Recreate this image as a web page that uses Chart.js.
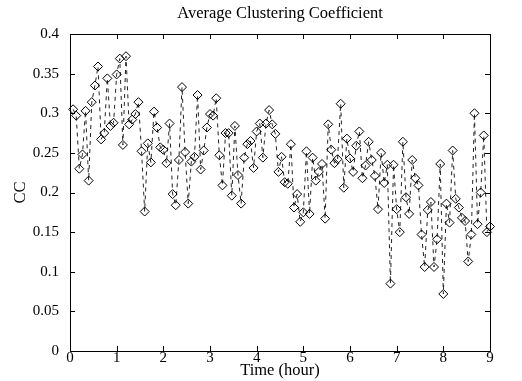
<!DOCTYPE html>
<html>
<head>
<meta charset="utf-8">
<script src="https://cdn.jsdelivr.net/npm/chart.js@4.4.1/dist/chart.umd.min.js"></script>
<style>
  html, body { margin: 0; padding: 0; background: #fff; }
  #wrap { width: 522px; height: 381px; }
</style>
</head>
<body>
<div id="wrap"><canvas id="ccChart" width="522" height="381"></canvas></div>
<script>
// average clustering coefficient, one sample every 4 minutes
const sampleMinutes = 4;
const ccValues = [
  0.305, 0.297, 0.230, 0.248, 0.303, 0.215, 0.314, 0.335, 0.359, 0.267,
  0.275, 0.344, 0.284, 0.288, 0.349, 0.369, 0.260, 0.372, 0.286, 0.292,
  0.299, 0.314, 0.252, 0.176, 0.262, 0.238, 0.302, 0.282, 0.257, 0.254,
  0.237, 0.287, 0.198, 0.184, 0.241, 0.333, 0.251, 0.186, 0.239, 0.245,
  0.323, 0.229, 0.253, 0.282, 0.299, 0.297, 0.319, 0.247, 0.209, 0.275,
  0.275, 0.196, 0.284, 0.222, 0.186, 0.244, 0.261, 0.265, 0.231, 0.277,
  0.287, 0.244, 0.287, 0.304, 0.286, 0.274, 0.226, 0.245, 0.213, 0.211,
  0.261, 0.181, 0.198, 0.163, 0.175, 0.252, 0.173, 0.244, 0.215, 0.226,
  0.236, 0.167, 0.286, 0.254, 0.237, 0.242, 0.312, 0.206, 0.268, 0.243,
  0.226, 0.259, 0.277, 0.218, 0.234, 0.264, 0.241, 0.221, 0.179, 0.250,
  0.212, 0.235, 0.085, 0.235, 0.179, 0.150, 0.264, 0.194, 0.173, 0.241,
  0.218, 0.209, 0.147, 0.106, 0.178, 0.188, 0.106, 0.141, 0.236, 0.072,
  0.186, 0.162, 0.253, 0.192, 0.181, 0.168, 0.164, 0.113, 0.147, 0.300,
  0.160, 0.200, 0.272, 0.150, 0.157
];
const xTicks = [0, 1, 2, 3, 4, 5, 6, 7, 8, 9];
const yTicks = [0, 0.05, 0.1, 0.15, 0.2, 0.25, 0.3, 0.35, 0.4];
const chartTitle = 'Average Clustering Coefficient';

const serif = 'Liberation Serif';
const tickSize = 15;
const labelSize = 16.5;
const points = ccValues.map((v, i) => ({ x: (i + 1) * sampleMinutes / 60, y: v }));

// box around the plot with short tick marks pointing inward on every side,
// plus the title centred over the plot area
const axesBox = {
  id: 'axesBox',
  afterDraw(chart) {
    const { ctx, chartArea: a, scales: { x, y } } = chart;
    const len = 5;
    ctx.save();
    ctx.strokeStyle = '#000';
    ctx.lineWidth = 1;
    ctx.setLineDash([]);
    ctx.beginPath();
    xTicks.forEach(t => {
      const px = Math.round(x.getPixelForValue(t)) + 0.5;
      ctx.moveTo(px, a.bottom);
      ctx.lineTo(px, a.bottom - len);
      ctx.moveTo(px, a.top);
      ctx.lineTo(px, a.top + len);
    });
    yTicks.forEach(t => {
      const py = Math.round(y.getPixelForValue(t)) + 0.5;
      ctx.moveTo(a.left, py);
      ctx.lineTo(a.left + len, py);
      ctx.moveTo(a.right, py);
      ctx.lineTo(a.right - len, py);
    });
    ctx.stroke();
    ctx.strokeRect(Math.round(a.left) + 0.5, Math.round(a.top) + 0.5,
      Math.round(a.right - a.left), Math.round(a.bottom - a.top));

    ctx.font = labelSize + 'px "' + serif + '"';
    ctx.fillStyle = '#000';
    ctx.textAlign = 'center';
    ctx.textBaseline = 'middle';
    ctx.fillText(chartTitle, (a.left + a.right) / 2, 14);
    ctx.restore();
  }
};

new Chart(document.getElementById('ccChart'), {
  type: 'line',
  data: {
    datasets: [{
      data: points,
      borderColor: '#222',
      borderWidth: 1,
      borderDash: [4, 4],
      pointStyle: 'rectRot',
      pointRadius: 4.5,
      pointBorderWidth: 1,
      pointBorderColor: '#000',
      pointBackgroundColor: 'rgba(0,0,0,0)',
      tension: 0,
      clip: false
    }]
  },
  options: {
    responsive: false,
    animation: false,
    layout: { padding: { left: 11, right: 32, top: 34, bottom: 0 } },
    plugins: {
      legend: { display: false },
      tooltip: { enabled: false },
      title: { display: false }
    },
    scales: {
      x: {
        type: 'linear',
        min: 0,
        max: 9,
        afterBuildTicks: s => { s.ticks = xTicks.map(v => ({ value: v })); },
        afterFit: s => { s.height = 30; },
        grid: { display: false, drawTicks: false },
        border: { display: false },
        ticks: {
          color: '#000',
          padding: -2,
          maxRotation: 0,
          font: { family: serif, size: tickSize }
        },
        title: {
          display: true,
          text: 'Time (hour)',
          color: '#000',
          padding: { top: 0, bottom: 0 },
          font: { family: serif, size: labelSize }
        }
      },
      y: {
        min: 0,
        max: 0.4,
        afterBuildTicks: s => { s.ticks = yTicks.map(v => ({ value: v })); },
        afterFit: s => { s.width = 59; },
        grid: { display: false, drawTicks: false },
        border: { display: false },
        ticks: {
          color: '#000',
          padding: 11,
          font: { family: serif, size: tickSize },
          callback: v => String(Math.round(v * 100) / 100)
        },
        title: {
          display: true,
          text: 'CC',
          color: '#000',
          padding: 0,
          font: { family: serif, size: labelSize }
        }
      }
    }
  },
  plugins: [axesBox]
});
</script>
</body>
</html>
